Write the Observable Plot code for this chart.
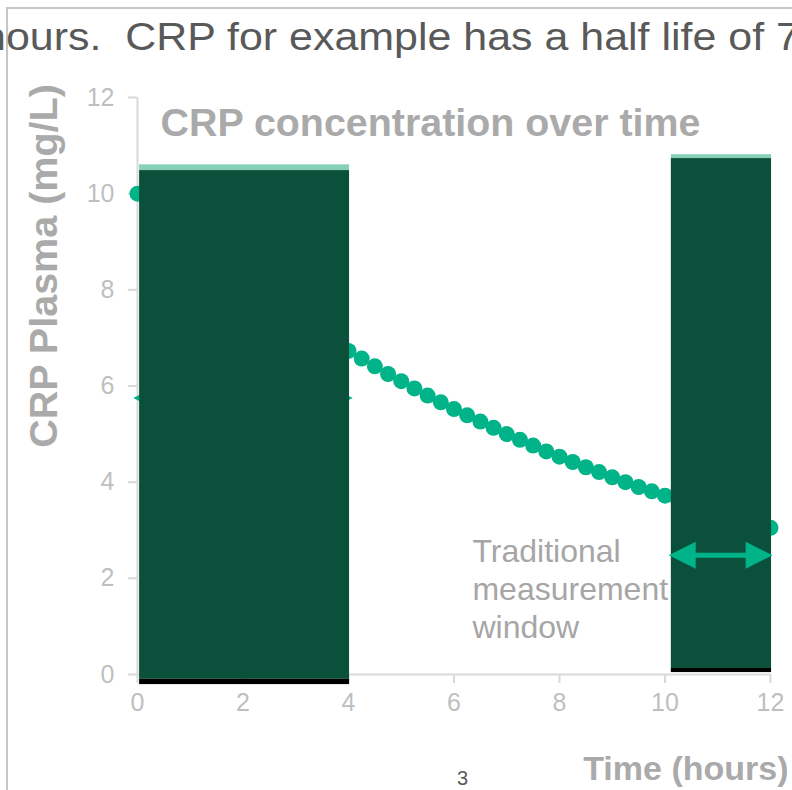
<!DOCTYPE html>
<html><head><meta charset="utf-8">
<script src="https://cdn.jsdelivr.net/npm/d3@7"></script>
<script src="https://cdn.jsdelivr.net/npm/@observablehq/plot@0.6"></script>
<style>
body{margin:0;background:#fff;}
#wrap{position:relative;width:792px;height:790px;overflow:hidden;font-family:"Liberation Sans",Arial,sans-serif;background:#fff;}
#chart svg{position:absolute;left:0;top:0;}
.frameV{position:absolute;left:6px;top:8px;width:2px;height:790px;background:#c6c6c6;}
.frameH{position:absolute;left:6px;top:7px;width:800px;height:2px;background:#c6c6c6;}
#body{position:absolute;left:-18px;top:18px;font-size:38px;line-height:38px;color:#595959;white-space:pre;transform:scaleX(1.13);transform-origin:0 0;}
#page{position:absolute;left:457px;top:768px;font-size:20px;line-height:20px;color:#595959;}
</style></head><body>
<div id="wrap">
  <div class="frameV"></div><div class="frameH"></div>
  <div id="body">hours.  CRP for example has a half life of 7</div>
  <div id="chart"></div>
  <div id="page">3</div>
</div>
<script>
// ---- data ----
const hours = [0,0.25,0.5,0.75,1,1.25,1.5,1.75,2,2.25,2.5,2.75,3,3.25,3.5,3.75,4,4.25,4.5,4.75,5,5.25,5.5,5.75,6,6.25,6.5,6.75,7,7.25,7.5,7.75,8,8.25,8.5,8.75,9,9.25,9.5,9.75,10,10.25,10.5,10.75,11,11.25,11.5,11.75,12];
const crp = [10.00,9.76,9.52,9.29,9.06,8.84,8.62,8.41,8.20,8.00,7.81,7.62,7.43,7.25,7.07,6.90,6.73,6.57,6.41,6.25,6.10,5.95,5.80,5.66,5.52,5.39,5.26,5.13,5.00,4.88,4.76,4.64,4.53,4.42,4.31,4.21,4.10,4.00,3.90,3.81,3.72,3.63,3.54,3.45,3.37,3.28,3.20,3.13,3.05];

// covering blocks (time window start/end, and band edges in mg/L)
const blockStart  = [0.04, 10.12];
const blockEnd    = [4.02, 12.02];
const stripTop    = [10.60, 10.81];
const darkTop     = [10.48, 10.73];
const darkBottom  = [-0.10, 0.125];
const blackBottom = [-0.21, 0.04];

// double arrows
const arrowLevel = [5.75, 2.48];
const arrowFrom  = [-0.08, 10.07];
const arrowTo    = [4.08, 12.04];

const xTicks = [0,2,4,6,8,10,12];
const yTicks = [0,2,4,6,8,10,12];

const titleText = "CRP concentration over time";
const yLabel = "CRP Plasma (mg/L)";
const xLabel = "Time (hours)";
const noteText = "Traditional\nmeasurement\nwindow";
const noteX = [6.35];
const noteY = [2.91];

// ---- build tables ----
const points = hours.map((h, i) => ({h, v: crp[i]}));
const blocks = blockStart.map((s, i) => ({s, e: blockEnd[i], st: stripTop[i], dt: darkTop[i], db: darkBottom[i], bb: blackBottom[i]}));
const arrows = arrowLevel.map((y, i) => ({y, x1: arrowFrom[i], x2: arrowTo[i]}));

const teal = "#00B388", dark = "#0B503B", light = "#86D0B6";
const headLeft = {draw(c){c.moveTo(0,0);c.lineTo(27,-13.5);c.lineTo(27,13.5);c.closePath();}};
const headRight = {draw(c){c.moveTo(0,0);c.lineTo(-27,-13.5);c.lineTo(-27,13.5);c.closePath();}};
const arrowMarks = (data) => [
  Plot.ruleY(data, {y: "y", x1: "x1", x2: "x2", stroke: teal, strokeWidth: 5, insetLeft: 12, insetRight: 12}),
  Plot.dot(data, {x: "x1", y: "y", symbol: headLeft, fill: teal, stroke: "none"}),
  Plot.dot(data, {x: "x2", y: "y", symbol: headRight, fill: teal, stroke: "none"})
];

const chart = Plot.plot({
  width: 792, height: 790,
  marginLeft: 137, marginRight: 22, marginTop: 97, marginBottom: 116,
  style: {fontFamily: '"Liberation Sans", Arial, sans-serif', background: "transparent"},
  x: {domain: [0, 12]},
  y: {domain: [0, 12]},
  marks: [
    Plot.ruleY([0], {stroke: "#d9d9d9", strokeWidth: 2}),
    Plot.ruleX([0], {y1: 0, y2: 12, stroke: "#d9d9d9", strokeWidth: 2}),
    Plot.axisX({ticks: xTicks, tickSize: 9, tickPadding: 10, fontSize: 25, label: null, stroke: "#d9d9d9", strokeWidth: 2, fill: "#bfbfbf", tickFormat: d => d}),
    Plot.axisY({ticks: yTicks, tickSize: 9, tickPadding: 14, fontSize: 25, label: null, stroke: "#d9d9d9", strokeWidth: 2, fill: "#bfbfbf", tickFormat: d => d}),
    ...arrowMarks(arrows.slice(0, 1)),
    Plot.dot(points, {x: "h", y: "v", r: 8, fill: teal, stroke: "none"}),
    Plot.rect(blocks, {x1: "s", x2: "e", y1: "dt", y2: "st", fill: light}),
    Plot.rect(blocks, {x1: "s", x2: "e", y1: "db", y2: "dt", fill: dark}),
    Plot.rect(blocks, {x1: "s", x2: "e", y1: "bb", y2: "db", fill: "#000"}),
    ...arrowMarks(arrows.slice(1)),
    Plot.text([titleText], {text: d => d, frameAnchor: "top-left", dx: 23, dy: 11, lineAnchor: "top", textAnchor: "start", fontSize: 39.4, fontWeight: "bold", fill: "#aaaaaa"}),
    Plot.text([yLabel], {text: d => d, frameAnchor: "left", rotate: -90, dx: -93, dy: -120, lineAnchor: "middle", textAnchor: "middle", fontSize: 39.5, fontWeight: "bold", fill: "#aaaaaa"}),
    Plot.text([xLabel], {text: d => d, frameAnchor: "bottom-right", dx: 18, dy: 81, lineAnchor: "top", textAnchor: "end", fontSize: 34, fontWeight: "bold", fill: "#aaaaaa"}),
    Plot.text([noteText], {text: d => d, x: noteX, y: noteY, lineAnchor: "top", textAnchor: "start", fontSize: 32, lineHeight: 1.19, fill: "#a6a6a6"})
  ]
});
document.getElementById("chart").appendChild(chart);
</script>
</body></html>
